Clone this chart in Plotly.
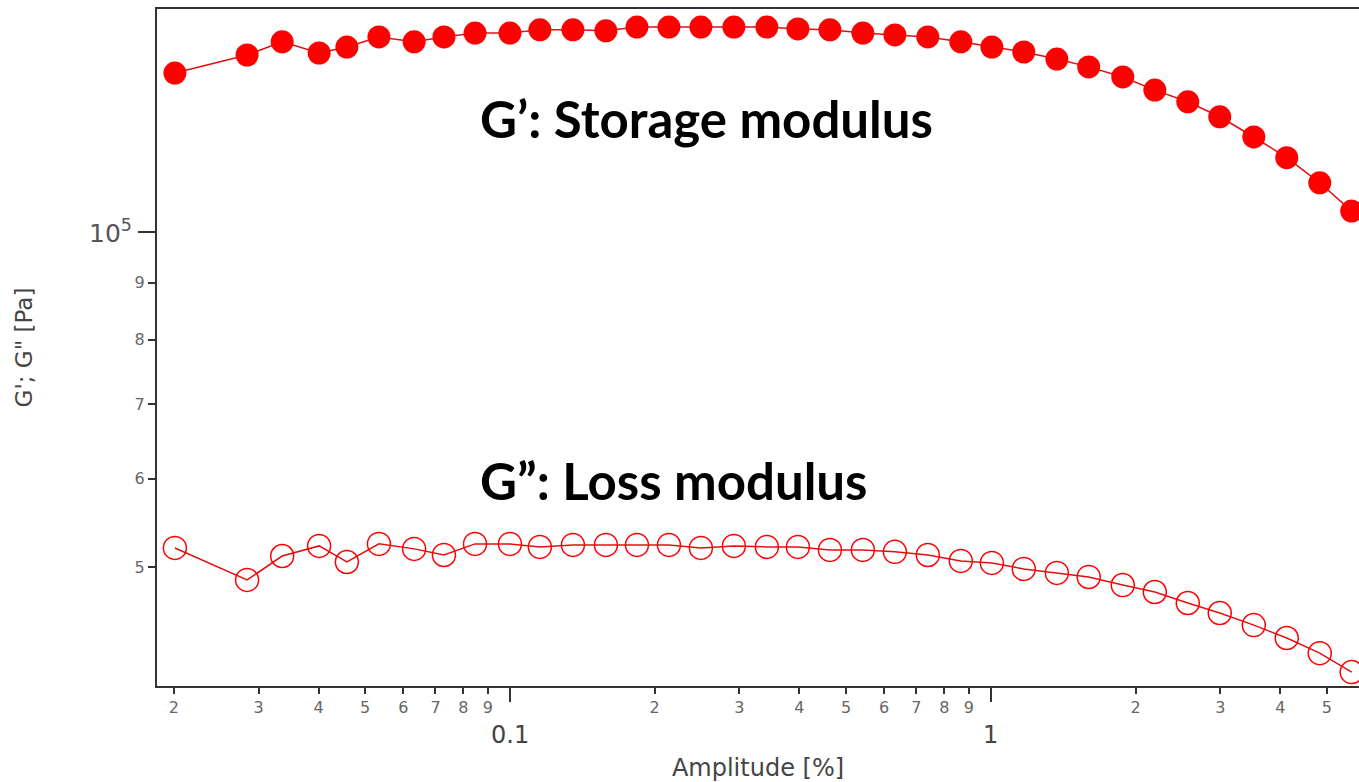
import numpy as np
import plotly.graph_objects as go

# Amplitude [%]
amplitude = [0.0201, 0.0284, 0.0336, 0.0401, 0.0458, 0.0534, 0.0632, 0.0729, 0.0846,
             0.100, 0.1154, 0.1352, 0.1583, 0.1837, 0.2141, 0.2495, 0.2922, 0.3422,
             0.3970, 0.4628, 0.5419, 0.6317, 0.7396, 0.8661, 1.005, 1.171, 1.372,
             1.598, 1.881, 2.193, 2.568, 2.993, 3.523, 4.125, 4.831, 5.630]

# G' storage modulus [Pa]
g_storage = [1.389e5, 1.442e5, 1.482e5, 1.448e5, 1.466e5, 1.497e5, 1.482e5, 1.497e5, 1.509e5,
             1.509e5, 1.519e5, 1.519e5, 1.516e5, 1.528e5, 1.528e5, 1.528e5, 1.528e5, 1.528e5,
             1.522e5, 1.519e5, 1.509e5, 1.503e5, 1.497e5, 1.482e5, 1.466e5, 1.451e5, 1.430e5,
             1.407e5, 1.378e5, 1.341e5, 1.309e5, 1.269e5, 1.217e5, 1.166e5, 1.107e5, 1.044e5]

# G'' loss modulus [Pa]
g_loss = [5.200e4, 4.867e4, 5.114e4, 5.222e4, 5.051e4, 5.244e4, 5.190e4, 5.125e4, 5.244e4,
          5.244e4, 5.211e4, 5.233e4, 5.233e4, 5.233e4, 5.233e4, 5.200e4, 5.222e4, 5.211e4,
          5.211e4, 5.179e4, 5.179e4, 5.158e4, 5.125e4, 5.062e4, 5.041e4, 4.979e4, 4.938e4,
          4.897e4, 4.816e4, 4.747e4, 4.640e4, 4.545e4, 4.433e4, 4.316e4, 4.183e4, 4.022e4]

# Axis ticks
x_minor_vals = [0.02, 0.03, 0.04, 0.05, 0.06, 0.07, 0.08, 0.09,
                0.2, 0.3, 0.4, 0.5, 0.6, 0.7, 0.8, 0.9, 2, 3, 4, 5]
x_minor_text = ["2", "3", "4", "5", "6", "7", "8", "9",
                "2", "3", "4", "5", "6", "7", "8", "9", "2", "3", "4", "5"]
x_major_vals = [0.1, 1]
x_major_text = ["0.1", "1"]

y_minor_vals = [5e4, 6e4, 7e4, 8e4, 9e4]
y_minor_text = ["5", "6", "7", "8", "9"]
y_major_vals = [1e5]
y_major_text = ["10<sup>5</sup>"]

red = "#ff0000"
line_red = "#e01010"
gray = "#666666"
axis_col = "#333333"

x_range = [np.log10(0.01845), np.log10(5.83)]
y_range = [np.log10(3.908e4), np.log10(1.586e5)]

fig = go.Figure()
fig.add_trace(go.Scatter(
    x=amplitude, y=g_storage, mode="lines+markers",
    line=dict(color=line_red, width=1.5),
    marker=dict(symbol="circle", size=23, color=red, line=dict(width=0)),
    showlegend=False,
))
fig.add_trace(go.Scatter(
    x=amplitude, y=g_loss, mode="lines+markers",
    line=dict(color=line_red, width=1.5),
    marker=dict(symbol="circle-open", size=23, color=red, line=dict(width=1.5)),
    showlegend=False,
))
# invisible trace to carry the overlay axes (long major ticks)
fig.add_trace(go.Scatter(
    x=amplitude, y=g_storage, xaxis="x2", yaxis="y2", mode="markers",
    marker=dict(opacity=0), hoverinfo="skip", showlegend=False,
))

fig.update_layout(
    xaxis=dict(
        type="log", range=x_range,
        showline=True, linecolor=axis_col, linewidth=2, mirror=True,
        showgrid=False, zeroline=False,
        tickmode="array", tickvals=x_minor_vals, ticktext=x_minor_text,
        ticks="outside", ticklen=6, tickwidth=1.5, tickcolor=axis_col,
        tickfont=dict(family="DejaVu Sans", size=16, color=gray),
        title=dict(text="Amplitude [%]", standoff=44,
                   font=dict(family="DejaVu Sans", size=24, color="#444444")),
    ),
    yaxis=dict(
        type="log", range=y_range,
        showline=True, linecolor=axis_col, linewidth=2, mirror=False,
        showgrid=False, zeroline=False,
        tickmode="array", tickvals=y_minor_vals, ticktext=y_minor_text,
        ticks="outside", ticklen=7, tickwidth=1.5, tickcolor=axis_col,
        tickfont=dict(family="DejaVu Sans", size=16, color=gray),
        title=dict(text="G'; G\" [Pa]", standoff=96,
                   font=dict(family="DejaVu Sans", size=23, color="#444444")),
    ),
    xaxis2=dict(
        type="log", range=x_range, overlaying="x", anchor="y2", side="bottom",
        showline=False, showgrid=False, zeroline=False, showticklabels=False,
        tickmode="array", tickvals=x_major_vals,
        ticks="outside", ticklen=15, tickwidth=1.5, tickcolor=axis_col,
    ),
    yaxis2=dict(
        type="log", range=y_range, overlaying="y", anchor="x2", side="left",
        showline=False, showgrid=False, zeroline=False, showticklabels=False,
        tickmode="array", tickvals=y_major_vals,
        ticks="outside", ticklen=18, tickwidth=1.5, tickcolor=axis_col,
    ),
)

annotations = []
for v, t in zip(x_major_vals, x_major_text):
    annotations.append(dict(
        x=np.log10(v), xref="x", y=-0.072, yref="paper",
        text=t, showarrow=False, xanchor="center", yanchor="middle",
        font=dict(family="DejaVu Sans", size=24, color="#444444"),
    ))
for v, t in zip(y_major_vals, y_major_text):
    annotations.append(dict(
        x=-0.019, xref="paper", y=np.log10(v), yref="y",
        text=t, showarrow=False, xanchor="right", yanchor="middle",
        font=dict(family="DejaVu Sans", size=25, color="#555555"),
    ))
annotations.append(dict(
    x=0.267, xref="paper", y=0.838, yref="paper", text="G’: Storage modulus",
    showarrow=False, xanchor="left", yanchor="middle",
    font=dict(family="Lato", size=51, color="#000000", weight="bold"),
))
annotations.append(dict(
    x=0.267, xref="paper", y=0.304, yref="paper", text="G”: Loss modulus",
    showarrow=False, xanchor="left", yanchor="middle",
    font=dict(family="Lato", size=51, color="#000000", weight="bold"),
))

fig.update_layout(
    width=1359, height=782,
    margin=dict(l=157, r=0, t=9, b=96),
    paper_bgcolor="white", plot_bgcolor="white",
    annotations=annotations,
)

fig.write_html("out.html")
